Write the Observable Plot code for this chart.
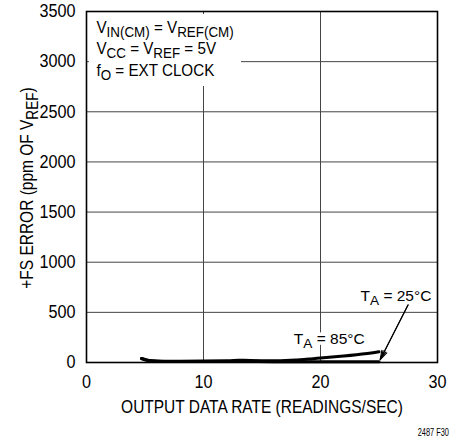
<!DOCTYPE html>
<html>
<head>
<meta charset="utf-8">
<script src="https://cdn.jsdelivr.net/npm/d3@7"></script>
<script src="https://cdn.jsdelivr.net/npm/@observablehq/plot@0.6"></script>
<style>
  html, body { margin: 0; padding: 0; background: white; }
</style>
</head>
<body>
<div id="chart"></div>
<script>
// ---- data ----
const xTicks = [0, 10, 20, 30];
const yTicks = [0, 500, 1000, 1500, 2000, 2500, 3000, 3500];
const xGrid = [10, 20];
const yGrid = [500, 1000, 1500, 2000, 2500, 3000];

// T_A = 85°C curve
const rate85 = [4.7, 5.2, 6, 7, 8, 10, 12, 13, 14, 16, 17, 18, 19, 20, 22, 24, 25];
const err85  = [40, 22, 14, 12, 12, 14, 18, 22, 20, 18, 20, 26, 34, 45, 65, 90, 108];
// T_A = 25°C curve
const rate25 = [4.7, 5.2, 6, 8, 10, 12, 14, 16, 18, 20, 22, 25];
const err25  = [40, 22, 12, 10, 10, 10, 10, 8, 8, 8, 8, 8];

const noteLines = ["V_{IN(CM)} = V_{REF(CM)}", "V_{CC} = V_{REF} = 5V", "f_{O} = EXT CLOCK"];
const noteX = [0.85, 0.85, 0.85];
const noteY = [3290, 3076, 2861];
const noteBox = [{x1: 0.25, x2: 13.25, y1: 2752, y2: 3470}];

const curveLabels = ["T_{A} = 25°C", "T_{A} = 85°C"];
const curveLabelX = [26.45, 20.75];
const curveLabelY = [615, 185];

const arrow25 = [{x1: 27.85, y1: 658, x2: 25.1, y2: 28}];

const xTitle = "OUTPUT DATA RATE (READINGS/SEC)";
const yTitle = "+FS ERROR (ppm OF V_{REF})";
const caption = "2487 F30";

// ---- build tables ----
const d85 = rate85.map((x, i) => ({x, y: err85[i]}));
const d25 = rate25.map((x, i) => ({x, y: err25[i]}));
const notes = noteLines.map((t, i) => ({t, x: noteX[i], y: noteY[i]}));
const labs = curveLabels.map((t, i) => ({t, x: curveLabelX[i], y: curveLabelY[i]}));

const FONT = "'Liberation Sans', Arial, sans-serif";
const GRID = "#444";

const plot = Plot.plot({
  width: 461,
  height: 441,
  marginLeft: 86,
  marginRight: 24,
  marginTop: 11,
  marginBottom: 79,
  style: {fontFamily: FONT, fontSize: "18px", background: "white", color: "black", overflow: "visible"},
  x: {domain: [0, 30], label: null},
  y: {domain: [0, 3500], label: null},
  marks: [
    Plot.ruleX(xGrid, {stroke: GRID, strokeWidth: 1}),
    Plot.ruleY(yGrid, {stroke: GRID, strokeWidth: 1}),
    Plot.rect(noteBox, {x1: "x1", x2: "x2", y1: "y1", y2: "y2", fill: "white"}),
    Plot.line(d25, {x: "x", y: "y", stroke: "black", strokeWidth: 3, curve: "natural"}),
    Plot.line(d85, {x: "x", y: "y", stroke: "black", strokeWidth: 3, curve: "natural"}),
    Plot.arrow(arrow25, {x1: "x1", y1: "y1", x2: "x2", y2: "y2", stroke: "black", strokeWidth: 1.1, headLength: 13, headAngle: 34}),
    Plot.arrow(arrow25, {x1: "x1", y1: "y1", x2: "x2", y2: "y2", stroke: "black", strokeWidth: 1.1, headLength: 13, headAngle: 18}),
    Plot.text(labs, {x: "x", y: "y", text: "t", textAnchor: "middle", lineAnchor: "bottom",
      fontSize: 15.5, fill: "black", stroke: "white", strokeWidth: 7, className: "curve-label"}),
    Plot.text(notes, {x: "x", y: "y", text: "t", textAnchor: "start", lineAnchor: "bottom",
      fontSize: 16, fill: "black", className: "note"}),
    Plot.frame({stroke: "black", strokeWidth: 1.6}),
    Plot.axisX({ticks: xTicks, tickFormat: "d", tickSize: 0, tickPadding: 13, label: null, fontSize: 18}),
    Plot.axisY({ticks: yTicks, tickFormat: "d", tickSize: 0, tickPadding: 11, label: null, fontSize: 18})
  ]
});

document.getElementById("chart").appendChild(plot);

const svg = d3.select(plot);

// axis titles and caption
svg.append("text")
  .attr("class", "title")
  .attr("x", 262).attr("y", 413)
  .attr("text-anchor", "middle")
  .attr("font-size", 18)
  .attr("fill", "black")
  .text(xTitle);

svg.append("text")
  .attr("class", "title")
  .attr("transform", "translate(33,188) rotate(-90)")
  .attr("text-anchor", "middle")
  .attr("font-size", 18)
  .attr("fill", "black")
  .text(yTitle);

svg.append("text")
  .attr("class", "caption")
  .attr("x", 449).attr("y", 436)
  .attr("text-anchor", "end")
  .attr("font-size", 10)
  .attr("fill", "black")
  .text(caption);

// render subscripts written as _{...}
function applySubs(el) {
  const s = el.textContent;
  if (!s.includes("_{")) return;
  const parts = s.split(/_\{([^}]*)\}/);
  while (el.firstChild) el.removeChild(el.firstChild);
  const fs = parseFloat(getComputedStyle(el).fontSize) || 16;
  const shift = fs * 0.27;
  let down = false;
  parts.forEach((p, i) => {
    if (!p) { return; }
    const t = document.createElementNS("http://www.w3.org/2000/svg", "tspan");
    t.textContent = p;
    if (i % 2 === 1) {
      t.setAttribute("font-size", (fs * 0.88).toFixed(1));
      if (!down) { t.setAttribute("dy", shift.toFixed(2)); down = true; }
    } else if (down) {
      t.setAttribute("dy", (-shift).toFixed(2)); down = false;
    }
    el.appendChild(t);
  });
}
plot.querySelectorAll("text").forEach(applySubs);

// condense texts horizontally to mimic the narrow face of the original
function factorFor(el) {
  if (el.closest(".curve-label")) return 1.0;
  if (el.closest(".note")) return 0.95;
  if (el.classList.contains("title")) return 0.86;
  if (el.classList.contains("caption")) return 0.74;
  return 0.9; // tick labels
}
plot.querySelectorAll("text").forEach(el => {
  const w = el.getComputedTextLength();
  const f = factorFor(el);
  if (w > 0 && f !== 1) {
    el.setAttribute("textLength", (w * f).toFixed(1));
    el.setAttribute("lengthAdjust", "spacingAndGlyphs");
  }
});
</script>
</body>
</html>
